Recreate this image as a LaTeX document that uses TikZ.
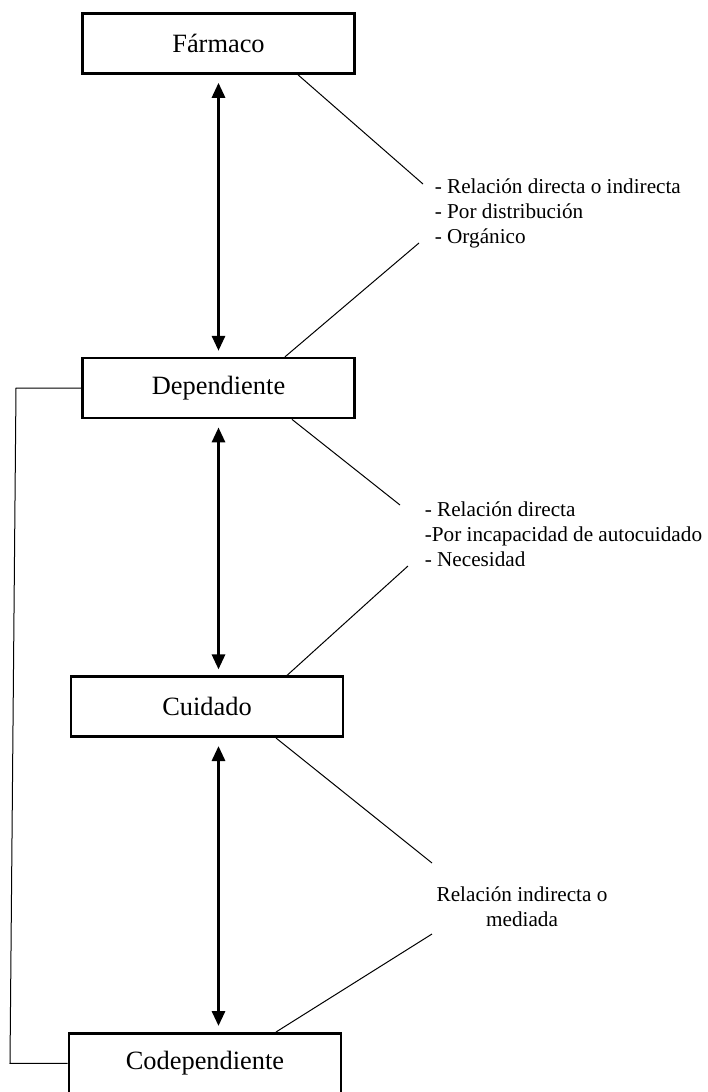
\documentclass[tikz,border=0pt]{standalone}
\usepackage{fontspec}
\setmainfont{Liberation Serif}
\usetikzlibrary{arrows.meta, positioning, calc}

\begin{document}
\begin{tikzpicture}[x=0.5pt, y=-0.5pt, thick,
    box/.style={draw, line width=1.3pt, minimum width=136pt, minimum height=30pt,
        font=\fontsize{13.2}{15}\selectfont},
    rel/.style={{Triangle[length=7.5pt,width=6.5pt]}-{Triangle[length=7.5pt,width=6.5pt]},
        line width=1.5pt, shorten <=4pt, shorten >=3pt},
    nota/.style={align=left, inner sep=0pt, font=\fontsize{10.6}{12.5}\selectfont},
    guia/.style={line width=0.5pt}]
    \useasboundingbox (0,0) rectangle (707,1092);

    % Nodes
    \node[box] (farmaco) at (218.5,43.5) {Fármaco};
    \node[box] (dependiente) [below=141pt of farmaco] {Dependiente};
    \node[box] (cuidado) [below=128pt of dependiente, xshift=-5.75pt] {Cuidado};
    \node[box] (codependiente) [below=147pt of cuidado, xshift=-1pt] {Codependiente};

    % Relations
    \draw[rel] (farmaco.south) -- (dependiente.north);
    \draw[rel] (dependiente.south) -- (dependiente.south |- cuidado.north);
    \draw[rel] (dependiente.south |- cuidado.south) -- (dependiente.south |- codependiente.north);

    % Notes
    \node[nota, anchor=west] (nota1) at (434,213) {- Relación directa o indirecta\\- Por distribución\\- Orgánico};
    \node[nota, anchor=west] (nota2) at (424,534) {- Relación directa\\-Por incapacidad de autocuidado\\- Necesidad};
    \node[nota, align=center] (nota3) at (522,907) {Relación indirecta o\\mediada};

    \coordinate (n1a) at (423,184);
    \coordinate (n1b) at (419,243);
    \coordinate (n2a) at (400,505);
    \coordinate (n2b) at (408,566);
    \coordinate (n3a) at (432,863);
    \coordinate (n3b) at (432,934);

    \draw[guia] (farmaco.south -| 298,0) -- (n1a);
    \draw[guia] (n1b) -- (dependiente.north -| 285,0);
    \draw[guia] (dependiente.south -| 292,0) -- (n2a);
    \draw[guia] (n2b) -- (cuidado.north -| 287,0);
    \draw[guia] (cuidado.south -| 276,0) -- (n3a);
    \draw[guia] (n3b) -- (codependiente.north -| 276,0);

    % Side link
    \draw[guia] (dependiente.west) -- (dependiente.west -| 16,0) -- (codependiente.west -| 10,0) -- (codependiente.west);
\end{tikzpicture}
\end{document}
